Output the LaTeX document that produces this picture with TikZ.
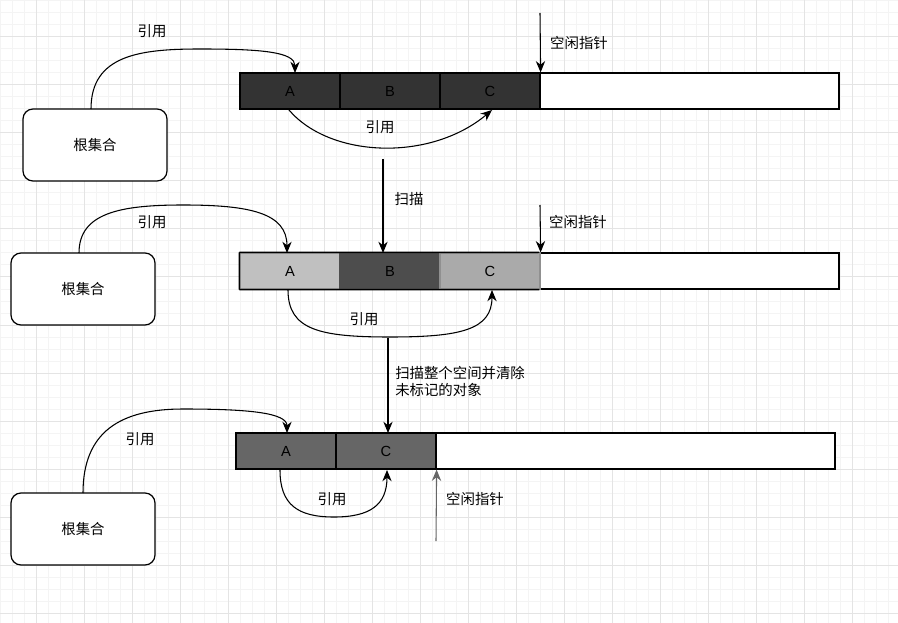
\documentclass[tikz,border=0pt]{standalone}
\usepackage{fontspec}
\setmainfont{Liberation Sans}
\newfontfamily\cjk{Noto Sans CJK SC}
\usetikzlibrary{arrows.meta}
\definecolor{minorg}{HTML}{F4F4F4}
\definecolor{majorg}{HTML}{E4E4E4}
\definecolor{darkA}{HTML}{333333}
\definecolor{lightA}{HTML}{C0C0C0}
\definecolor{midB}{HTML}{4D4D4D}
\definecolor{lightC}{HTML}{AAAAAA}
\definecolor{gray66}{HTML}{666666}
\begin{document}
\begin{tikzpicture}[x=0.75pt,y=-0.75pt,
  minorgrid/.style={draw=minorg,line width=0.75pt},
  majorgrid/.style={draw=majorg,line width=0.75pt},
  cell/.style={draw=black,line width=0.9pt,minimum width=75pt,minimum height=27pt,inner sep=0pt,font=\fontsize{11}{13}\selectfont},
  freecell/.style={draw=black,line width=1.1pt,fill=white,minimum height=27pt,inner sep=0pt},
  rootbox/.style={draw=black,line width=0.9pt,rounded corners=7.5pt,fill=white,minimum width=108pt,minimum height=54pt,inner sep=0pt,font=\cjk\fontsize{10.8}{13}\selectfont},
  lbl/.style={font=\cjk\fontsize{10.8}{13}\selectfont,inner sep=0pt},
  conn/.style={draw=black,line width=0.8pt,-{Stealth[length=8.5pt,width=7pt]}}
]
\useasboundingbox (0,0) rectangle (898,623);
\fill[white] (0,0) rectangle (898,623);
\foreach \i in {0,12,...,898} \draw[minorgrid] (\i,0) -- (\i,623);
\foreach \j in {1,13,...,623} \draw[minorgrid] (0,\j) -- (898,\j);
\foreach \i in {36,84,...,898} \draw[majorgrid] (\i,0) -- (\i,623);
\foreach \j in {37,85,...,623} \draw[majorgrid] (0,\j) -- (898,\j);

% ---------- Row 1 ----------
\node[freecell,minimum width=224.25pt] (w1) at (689.5,91) {};
\node[cell,fill=darkA] (a1) at (290,91) {A};
\node[cell,fill=darkA] (b1) at (390,91) {B};
\node[cell,fill=darkA] (c1) at (490,91) {C};
\node[rootbox] (r1) at (95,145) {根集合};
\coordinate (r1s) at (91,109);
\coordinate (a1t) at (295,73);
\coordinate (a1b) at (289,110);
\coordinate (c1b) at (492,110);
\coordinate (fp1) at (540,13);
\draw[conn] (r1s) .. controls (91,55) and (140,49) .. (200,49) .. controls (262,49) and (295,52) .. (a1t);
\draw[conn] (a1b) .. controls (330,158) and (430,162) .. (c1b);
\draw[conn] (fp1) -- (c1.north east);
\node[lbl] (l1a) at (152,31) {引用};
\node[lbl] (l1b) at (380,127) {引用};
\node[lbl] (l1c) at (579,43) {空闲指针};

% scan arrow
\coordinate (s1) at (383,159);
\draw[conn] (s1) -- (383,253);
\node[lbl] (ls1) at (409,199) {扫描};

% ---------- Row 2 ----------
\node[freecell,minimum width=224.25pt] (w2) at (689.5,271) {};
\node[cell,draw=lightA!80!black,fill=lightA] (a2) at (290,271) {A};
\node[cell,draw=midB,fill=midB] (b2) at (390,271) {B};
\node[cell,draw=lightC!85!black,fill=lightC] (c2) at (490,271) {C};
\draw[black,line width=1.1pt] (a2.north west) -- (w2.north west) (a2.south west) -- (w2.south west) (a2.north west) -- (a2.south west);
\node[rootbox] (r2) at (83,289) {根集合};
\coordinate (r2s) at (79,253);
\coordinate (a2t) at (287,253);
\coordinate (a2b) at (288,290);
\coordinate (c2b) at (492,290);
\coordinate (fp2) at (540,205);
\draw[conn] (r2s) .. controls (79,213) and (120,205) .. (183,205) .. controls (250,205) and (287,213) .. (a2t);
\draw[conn] (a2b) .. controls (288,330) and (320,337) .. (390,337) .. controls (460,337) and (492,330) .. (c2b);
\draw[conn] (fp2) -- (c2.north east);
\node[lbl] (l2a) at (152,222) {引用};
\node[lbl] (l2b) at (364,319) {引用};
\node[lbl] (l2c) at (578,222) {空闲指针};

% sweep arrow
\coordinate (s2) at (388,338);
\draw[conn] (s2) -- (388,433);
\node[lbl,anchor=west,align=left,font=\cjk\fontsize{10.8}{12.75}\selectfont] (ls2) at (395,381.5) {扫描整个空间并清除\\未标记的对象};

% ---------- Row 3 ----------
\node[freecell,minimum width=299.25pt] (w3) at (635.5,451) {};
\node[cell,fill=gray66] (a3) at (286,451) {A};
\node[cell,fill=gray66] (c3) at (386,451) {C};
\node[rootbox] (r3) at (83,529) {根集合};
\coordinate (r3s) at (83,493);
\coordinate (a3t) at (287,433);
\coordinate (a3b) at (280,470);
\coordinate (c3b) at (387,470);
\coordinate (fp3) at (436,541);
\draw[conn] (r3s) .. controls (83,432) and (120,409) .. (183,409) .. controls (250,409) and (287,413) .. (a3t);
\draw[conn] (a3b) .. controls (280,505) and (298,517) .. (334,517) .. controls (370,517) and (387,505) .. (c3b);
\draw[conn,draw=gray66] (fp3) -- (c3.south east);
\node[lbl] (l3a) at (140,439) {引用};
\node[lbl] (l3b) at (332,499) {引用};
\node[lbl] (l3c) at (475,499) {空闲指针};
\end{tikzpicture}
\end{document}
